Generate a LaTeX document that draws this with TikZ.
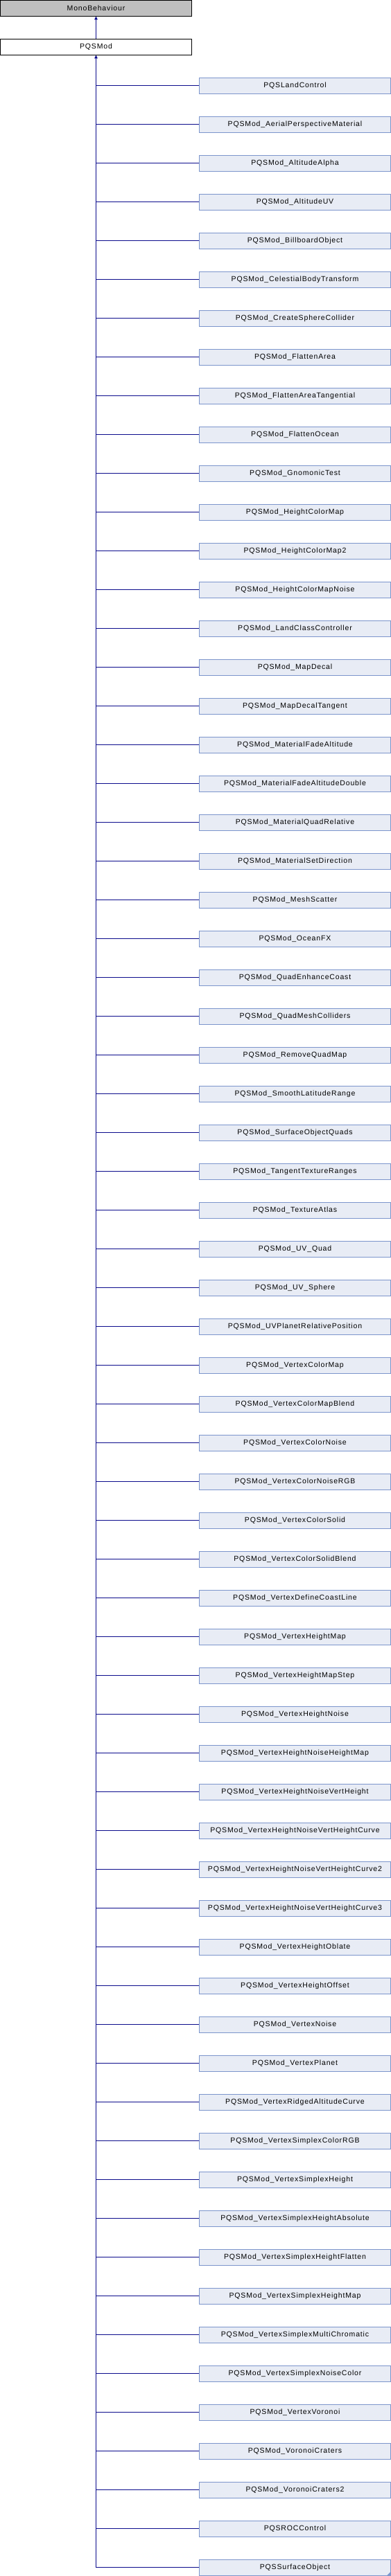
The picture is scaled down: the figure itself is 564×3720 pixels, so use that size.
\documentclass[tikz,border=0pt]{standalone}
\usepackage{fontspec}
\setmainfont{Liberation Sans}[LetterSpace=8]
\usetikzlibrary{arrows.meta}
\definecolor{childfill}{RGB}{232,236,245}
\definecolor{childdraw}{RGB}{124,149,204}
\definecolor{linkcol}{RGB}{12,12,140}
\definecolor{basefill}{RGB}{191,191,191}
\begin{document}
\begin{tikzpicture}[x=1pt,y=-1pt,
  box/.style={draw, line width=0.9pt, minimum width=276pt, minimum height=22.5pt, inner sep=0pt, font=\fontsize{10.5}{12}\selectfont, anchor=center},
  parentbox/.style={box, draw=black, fill=white},
  basebox/.style={box, draw=black, fill=basefill},
  childbox/.style={box, draw=childdraw, fill=childfill},
  link/.style={draw=linkcol, line width=1pt},
  inh/.style={link, -{Triangle[width=4.5pt,length=5pt]}}]
\useasboundingbox (0,0) rectangle (564,3720);
\node[basebox] (mono) at (138.5,11.75) {MonoBehaviour};
\node[parentbox] (pqs) at (138.5,67.75) {PQSMod};
\draw[inh] (pqs.north) -- (mono.south);
\foreach \name [count=\i] in {PQSLandControl,PQSMod\_AerialPerspectiveMaterial,PQSMod\_AltitudeAlpha,PQSMod\_AltitudeUV,PQSMod\_BillboardObject,PQSMod\_CelestialBodyTransform,PQSMod\_CreateSphereCollider,PQSMod\_FlattenArea,PQSMod\_FlattenAreaTangential,PQSMod\_FlattenOcean,PQSMod\_GnomonicTest,PQSMod\_HeightColorMap,PQSMod\_HeightColorMap2,PQSMod\_HeightColorMapNoise,PQSMod\_LandClassController,PQSMod\_MapDecal,PQSMod\_MapDecalTangent,PQSMod\_MaterialFadeAltitude,PQSMod\_MaterialFadeAltitudeDouble,PQSMod\_MaterialQuadRelative,PQSMod\_MaterialSetDirection,PQSMod\_MeshScatter,PQSMod\_OceanFX,PQSMod\_QuadEnhanceCoast,PQSMod\_QuadMeshColliders,PQSMod\_RemoveQuadMap,PQSMod\_SmoothLatitudeRange,PQSMod\_SurfaceObjectQuads,PQSMod\_TangentTextureRanges,PQSMod\_TextureAtlas,PQSMod\_UV\_Quad,PQSMod\_UV\_Sphere,PQSMod\_UVPlanetRelativePosition,PQSMod\_VertexColorMap,PQSMod\_VertexColorMapBlend,PQSMod\_VertexColorNoise,PQSMod\_VertexColorNoiseRGB,PQSMod\_VertexColorSolid,PQSMod\_VertexColorSolidBlend,PQSMod\_VertexDefineCoastLine,PQSMod\_VertexHeightMap,PQSMod\_VertexHeightMapStep,PQSMod\_VertexHeightNoise,PQSMod\_VertexHeightNoiseHeightMap,PQSMod\_VertexHeightNoiseVertHeight,PQSMod\_VertexHeightNoiseVertHeightCurve,PQSMod\_VertexHeightNoiseVertHeightCurve2,PQSMod\_VertexHeightNoiseVertHeightCurve3,PQSMod\_VertexHeightOblate,PQSMod\_VertexHeightOffset,PQSMod\_VertexNoise,PQSMod\_VertexPlanet,PQSMod\_VertexRidgedAltitudeCurve,PQSMod\_VertexSimplexColorRGB,PQSMod\_VertexSimplexHeight,PQSMod\_VertexSimplexHeightAbsolute,PQSMod\_VertexSimplexHeightFlatten,PQSMod\_VertexSimplexHeightMap,PQSMod\_VertexSimplexMultiChromatic,PQSMod\_VertexSimplexNoiseColor,PQSMod\_VertexVoronoi,PQSMod\_VoronoiCraters,PQSMod\_VoronoiCraters2,PQSROCControl,PQSSurfaceObject}{
  \node[childbox] (c\i) at (425.5,{123.75+56*(\i-1)}) {\name};
  \draw[link] (c\i.west) -- (c\i.west -| pqs.south);
}
\draw[inh] (c65.west -| pqs.south) -- (pqs.south);
\fill[childdraw] (c65.south east) -- ++(0,-6) -- ++(-6,6) -- cycle;
\end{tikzpicture}
\end{document}
